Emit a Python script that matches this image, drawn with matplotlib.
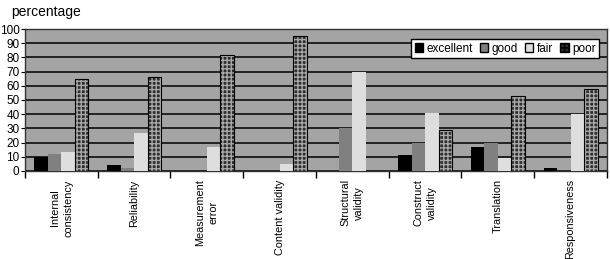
import matplotlib
matplotlib.use("Agg")
import matplotlib.pyplot as plt
import numpy as np
from matplotlib.patches import Patch

plt.rcParams['font.family'] = ['Liberation Sans', 'DejaVu Sans']

categories = ["Internal\nconsistency", "Reliability", "Measurement\nerror", "Content validity",
              "Structural\nvalidity", "Construct\nvalidity", "Translation", "Responsiveness"]
excellent = [10, 4, 0, 0, 0, 11, 17, 2]
good = [12, 2, 0, 0, 30, 20, 20, 0]
fair = [13, 27, 17, 5, 70, 41, 9, 40]
poor = [65, 66, 82, 95, 0, 29, 53, 58]
series_names = ["excellent", "good", "fair", "poor"]
yticks = list(range(0, 101, 10))

fig = plt.figure(figsize=(6.1, 2.59), dpi=100)
ax = fig.add_axes([0.041, 0.340, 0.954, 0.548])
ax.set_facecolor('#a4a4a4')

x = np.arange(len(categories))
w = 0.186
offs = [-1.5 * w, -0.5 * w, 0.5 * w, 1.5 * w]
ax.bar(x + offs[0], excellent, w, color='black', zorder=3)
ax.bar(x + offs[1], good, w, color='#808080', zorder=3)
ax.bar(x + offs[2], fair, w, color='#dedede', zorder=3)
ax.bar(x + offs[3], poor, w, color='#2e2e2e', hatch='++++', edgecolor='#a8a8a8', linewidth=0, zorder=3)
ax.bar(x + offs[3], poor, w, fill=False, edgecolor='black', linewidth=0.8, zorder=4)

ax.set_xlim(-0.5, len(categories) - 0.5)
ax.set_ylim(0, 100)
ax.set_yticks(yticks)
ax.tick_params(axis='y', labelsize=8.5, length=3, pad=1)
ax.yaxis.grid(True, color='black', linewidth=1.1, zorder=1)
ax.set_axisbelow(True)

ax.set_xticks(x)
ax.set_xticklabels(categories, rotation=90, fontsize=7.8, va='top', ha='center',
                   multialignment='center', linespacing=1.45)
ax.tick_params(axis='x', which='major', length=0, pad=6)
ax.set_xticks(np.arange(len(categories) + 1) - 0.5, minor=True)
ax.tick_params(axis='x', which='minor', length=5, width=1)

for s in ax.spines.values():
    s.set_color('#333333')
    s.set_linewidth(1.0)

fig.text(0.018, 0.955, "percentage", fontsize=10, ha='left', va='center')

handles = [Patch(facecolor='black', edgecolor='black', label='excellent'),
           Patch(facecolor='#808080', edgecolor='black', label='good'),
           Patch(facecolor='#dedede', edgecolor='black', label='fair'),
           Patch(facecolor='#2e2e2e', edgecolor='black', hatch='++++', label='poor')]
leg = ax.legend(handles=handles, labels=series_names, ncol=4, loc='upper right', fontsize=8.5,
                frameon=True, fancybox=False, edgecolor='black', framealpha=1,
                handlelength=0.7, handleheight=0.7, handletextpad=0.3, columnspacing=0.6,
                borderpad=0.3, bbox_to_anchor=(0.997, 0.97))
leg.get_frame().set_linewidth(1.0)

fig.savefig("out.png", dpi=100)
